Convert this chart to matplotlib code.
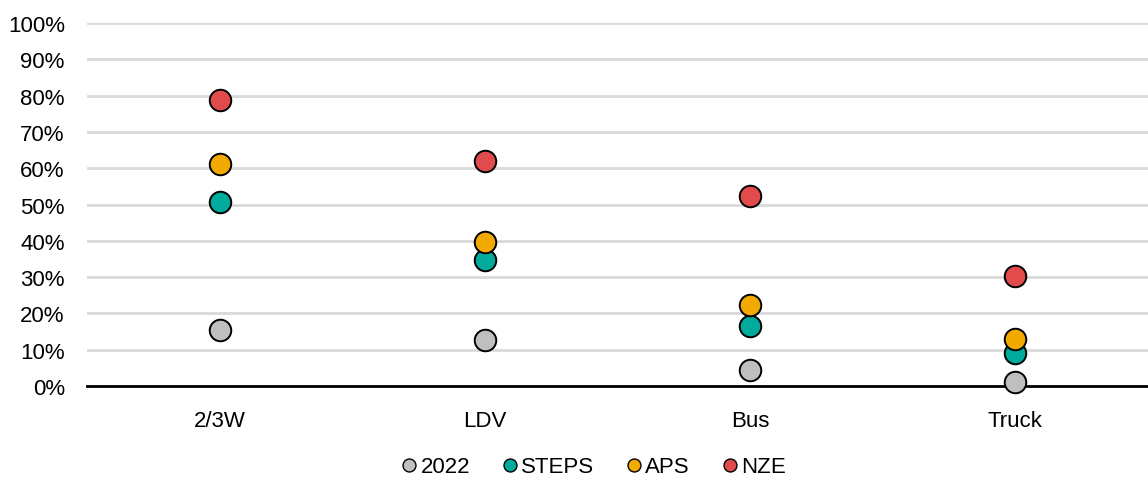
import matplotlib.pyplot as plt
from matplotlib.ticker import PercentFormatter

plt.rcParams['font.family'] = ['Liberation Sans', 'DejaVu Sans']

categories = ['2/3W', 'LDV', 'Bus', 'Truck']
series_names = ['2022', 'STEPS', 'APS', 'NZE']
vals_2022 = [15.4, 12.7, 4.4, 1.1]
vals_steps = [50.7, 34.7, 16.5, 9.1]
vals_aps = [61.2, 39.7, 22.3, 12.9]
vals_nze = [78.8, 62.0, 52.3, 30.3]
colors = ['#bfbfbf', '#00aa9c', '#f2a900', '#e24b4b']

fig = plt.figure(figsize=(11.48, 4.81), dpi=100)
ax = fig.add_axes([0.0758, 0.1954, 0.9242, 0.7547])

xs = list(range(len(categories)))
for name, vals, c in zip(series_names, [vals_2022, vals_steps, vals_aps, vals_nze], colors):
    ax.plot(xs, vals, linestyle='none', marker='o', markersize=15.5,
            markerfacecolor=c, markeredgecolor='black', markeredgewidth=1.4,
            label=name, zorder=3, clip_on=False)

ax.set_xlim(-0.5, 3.5)
ax.set_ylim(0, 100)
ax.set_yticks(range(0, 101, 10))
ax.yaxis.set_major_formatter(PercentFormatter(decimals=0))
ax.set_xticks(xs)
ax.set_xticklabels(categories)
ax.grid(axis='y', color='#d9d9d9', linewidth=2)
ax.set_axisbelow(True)
for s in ['top', 'right', 'left']:
    ax.spines[s].set_visible(False)
ax.spines['bottom'].set_color('black')
ax.spines['bottom'].set_linewidth(2)
ax.spines['bottom'].set_zorder(2)
ax.tick_params(axis='both', length=0, labelsize=16, colors='black')
ax.tick_params(axis='x', pad=17)
ax.tick_params(axis='y', pad=16)

leg = ax.legend(loc='center', bbox_to_anchor=(0.476, -0.223), ncol=4, frameon=False,
                fontsize=16, handletextpad=0.0, columnspacing=1.3, markerscale=0.6,
                handlelength=1.0)
for h in leg.legend_handles:
    h.set_markeredgewidth(1.0)

fig.savefig('out.png', dpi=100)
